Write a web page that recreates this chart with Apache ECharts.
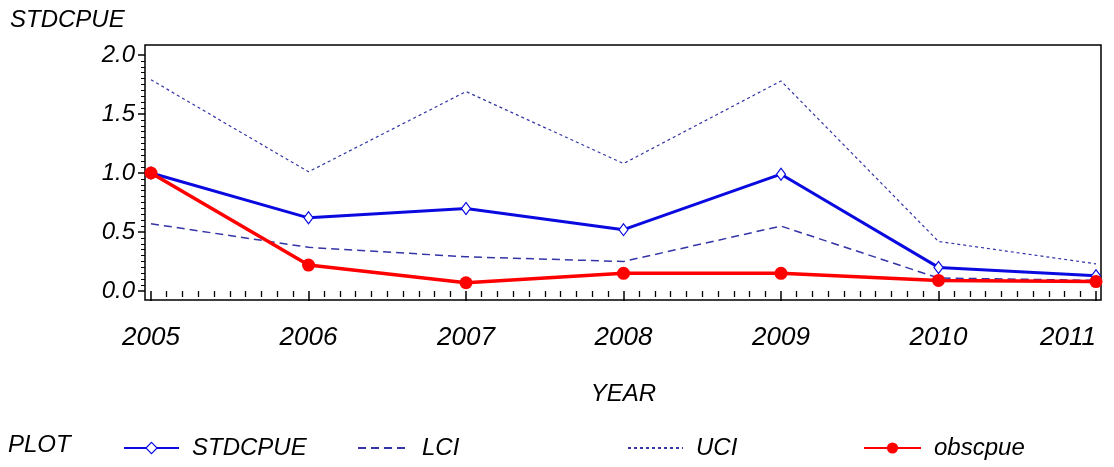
<!DOCTYPE html>
<html><head><meta charset="utf-8">
<script src="https://cdn.jsdelivr.net/npm/echarts@6/dist/echarts.min.js"></script>
<style>html,body{margin:0;padding:0;background:#fff}#c{width:1114px;height:467px}</style>
</head><body><div id="c"></div>
<script>
const years = [2005, 2006, 2007, 2008, 2009, 2010, 2011];
const stdcpue = [1.00, 0.62, 0.70, 0.52, 0.99, 0.20, 0.13];
const lci = [0.57, 0.37, 0.29, 0.25, 0.55, 0.11, 0.09];
const uci = [1.79, 1.01, 1.69, 1.08, 1.78, 0.42, 0.23];
const obscpue = [1.00, 0.22, 0.07, 0.15, 0.15, 0.09, 0.08];
const yTicks = [0.0, 0.5, 1.0, 1.5, 2.0];

const FONT = '"Liberation Sans", Arial, sans-serif';
const BLUE = '#0a0ae0', CI = '#3434a8', RED = '#ff0000';
const txt = {fontFamily: FONT, fontStyle: 'italic', fontSize: 24, color: '#000'};
const pair = a => years.map((y, i) => [y, a[i]]);

const chart = echarts.init(document.getElementById('c'), null, {renderer: 'canvas'});
const legendBase = (name, left, w, itemStyle) => ({
  data: [name], left: left, top: 436, itemWidth: w, itemHeight: 14, padding: 0,
  itemStyle: itemStyle,
  textStyle: Object.assign({}, txt, {padding: [0, 0, 0, 8]}), selectedMode: false
});
chart.setOption({
  animation: false,
  backgroundColor: '#fff',
  grid: [
    {left: 151, right: 18, top: 55, bottom: 176, show: false, outerBoundsMode: 'none', containLabel: false},
    {left: 145, right: 13, top: 45, bottom: 167, show: true, borderColor: '#000', borderWidth: 1.5,
     backgroundColor: 'transparent', outerBoundsMode: 'none', containLabel: false}
  ],
  xAxis: [
    {type: 'value', gridIndex: 0, min: years[0], max: years[years.length - 1], interval: 1,
     offset: 9, axisLine: {show: false},
     axisTick: {show: true, inside: false, length: 10, lineStyle: {color: '#000', width: 1.5}},
     minorTick: {show: true, splitNumber: 10, length: 6, lineStyle: {color: '#000', width: 1.3}},
     splitLine: {show: false}, minorSplitLine: {show: false},
     axisLabel: Object.assign({}, txt, {fontSize: 26, margin: 25, alignMaxLabel: 'right',
       formatter: v => String(v)}),
     name: 'YEAR', nameLocation: 'middle', nameGap: 82, nameTextStyle: txt},
    {type: 'value', gridIndex: 1, show: false, min: 0, max: 1}
  ],
  yAxis: [
    {type: 'value', gridIndex: 0, min: yTicks[0], max: yTicks[yTicks.length - 1], interval: 0.5,
     offset: 6, axisLine: {show: false},
     axisTick: {show: true, inside: false, length: 7, lineStyle: {color: '#000', width: 1.5}},
     minorTick: {show: true, splitNumber: 10, length: 4, lineStyle: {color: '#000', width: 1}},
     splitLine: {show: false}, minorSplitLine: {show: false},
     axisLabel: Object.assign({}, txt, {margin: 10, formatter: v => v.toFixed(1)})},
    {type: 'value', gridIndex: 1, show: false, min: 0, max: 1}
  ],
  legend: [
    legendBase('STDCPUE', 123, 55, {color: '#fff', borderColor: BLUE, borderWidth: 1.2}),
    legendBase('LCI', 357, 51, {opacity: 0}),
    legendBase('UCI', 627, 55, {opacity: 0}),
    legendBase('obscpue', 863, 57, {color: RED, borderColor: RED})
  ],
  graphic: [
    {type: 'text', left: 10, top: 8, style: {text: 'STDCPUE', font: 'italic 24px ' + FONT, fill: '#000'}},
    {type: 'text', left: 8, top: 433, style: {text: 'PLOT', font: 'italic 24px ' + FONT, fill: '#000'}}
  ],
  series: [
    {name: 'UCI', type: 'line', data: pair(uci), symbol: 'none', clip: false,
     lineStyle: {color: CI, width: 1.2, type: [3, 3]}, itemStyle: {color: CI}},
    {name: 'LCI', type: 'line', data: pair(lci), symbol: 'none', clip: false,
     lineStyle: {color: CI, width: 1.5, type: [8, 5]}, itemStyle: {color: CI}},
    {name: 'STDCPUE', type: 'line', data: pair(stdcpue), symbol: 'diamond', symbolSize: [9, 12], clip: false,
     lineStyle: {color: BLUE, width: 3}, itemStyle: {color: '#fff', borderColor: BLUE, borderWidth: 1.2}},
    {name: 'obscpue', type: 'line', data: pair(obscpue), symbol: 'circle', symbolSize: 13, clip: false,
     lineStyle: {color: RED, width: 3.5}, itemStyle: {color: RED}}
  ]
});
</script></body></html>
